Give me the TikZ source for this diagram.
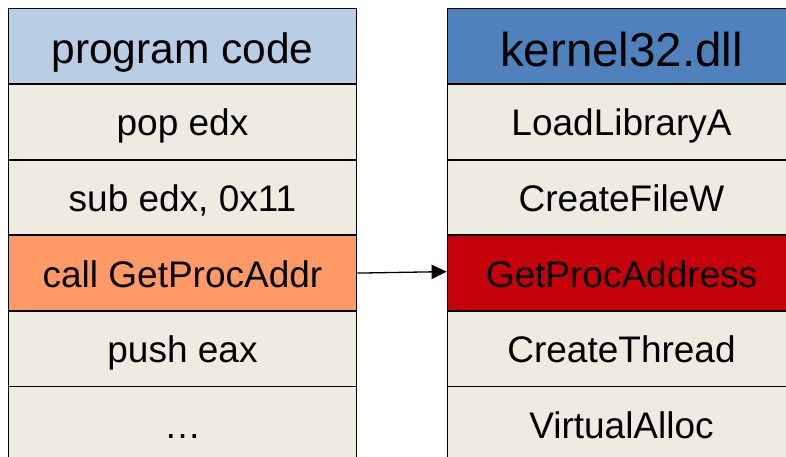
\documentclass[tikz,border=0pt]{standalone}
\usepackage{fontspec}
\setmainfont{Liberation Sans}
\usetikzlibrary{arrows.meta}
\definecolor{hdrlight}{HTML}{B9CDE5}
\definecolor{hdrdark}{HTML}{4F81BD}
\definecolor{rowfill}{HTML}{EEECE1}
\definecolor{callfill}{HTML}{FF9966}
\definecolor{hitfill}{HTML}{C6000B}
\begin{document}
\begin{tikzpicture}[x=1pt,y=-1pt,
  cell/.style={draw=black, line width=1.8pt, minimum width=348pt,
    minimum height=75.6pt, inner sep=0pt, text=black, fill=rowfill,
    text height=28pt, text depth=0pt,
    font=\fontsize{37}{40}\selectfont},
  hdr/.style 2 args={cell, font=\fontsize{#1}{48}\selectfont,
    text height=#2, text depth=0pt},
  link/.style={line width=1.3pt, -{Triangle[length=15pt,width=14pt]}}]
\useasboundingbox (0,0) rectangle (786,457);
\clip (0,0) rectangle (786,457);
% program code column
\node[hdr={42.5}{34pt}, fill=hdrlight] (pc) at (182.5,46.3) {program code};
\node[cell] (pop)  at (182.5,121.9) {pop edx};
\node[cell] (sub)  at (182.5,197.5) {sub edx, 0x11};
\node[cell, fill=callfill] (call) at (182.5,273.1) {call GetProcAddr};
\node[cell] (push) at (182.5,348.7) {push eax};
\node[cell] (more) at (182.5,424.3) {…};
% kernel32.dll export column
\node[hdr={47.5}{40pt}, fill=hdrdark] (k32) at (621.5,46.3) {kernel32.dll};
\node[cell] (lla)  at (621.5,121.9) {LoadLibraryA};
\node[cell] (cfw)  at (621.5,197.5) {CreateFileW};
\node[cell, fill=hitfill] (gpa) at (621.5,273.1) {GetProcAddress};
\node[cell] (cth)  at (621.5,348.7) {CreateThread};
\node[cell] (va)   at (621.5,424.3) {VirtualAlloc};
% call resolves to the export
\draw[link] (call.east) -- ([yshift=1.5pt]gpa.west);
\end{tikzpicture}
\end{document}
